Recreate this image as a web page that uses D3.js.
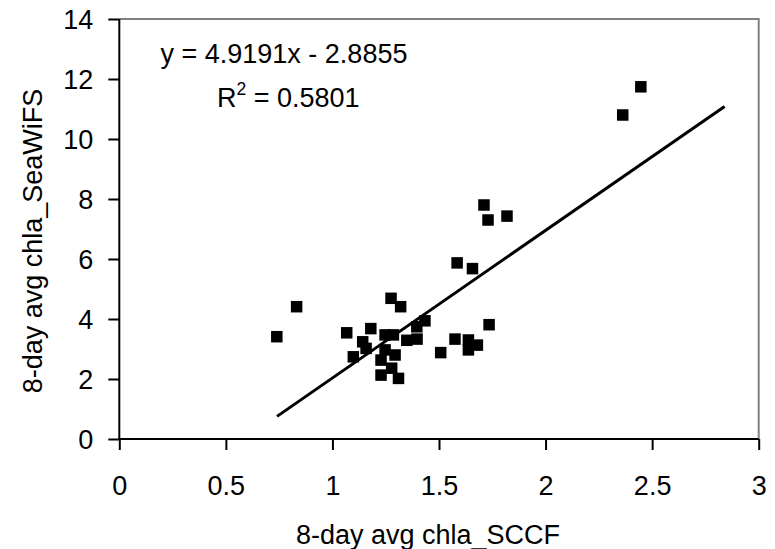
<!DOCTYPE html>
<html>
<head>
<meta charset="utf-8">
<script src="https://cdn.jsdelivr.net/npm/d3@7"></script>
<style>
  body { margin: 0; background: #fff; }
  svg text { font-family: "Liberation Sans", Arial, sans-serif; fill: #000; }
</style>
</head>
<body>
<svg id="chart" width="775" height="549"></svg>
<script>
// values
const sccf = [0.739, 0.832, 1.067, 1.180, 1.275, 1.320, 1.142, 1.158, 1.098, 1.247, 1.286, 1.247,
  1.294, 1.228, 1.278, 1.228, 1.310, 1.349, 1.397, 1.396, 1.434, 1.508, 1.575, 1.638,
  1.638, 1.680, 1.735, 1.585, 1.657, 1.711, 1.730, 1.819, 2.362, 2.447];
const seawifs = [3.41, 4.41, 3.54, 3.68, 4.69, 4.41, 3.24, 3.02, 2.74, 3.47, 3.47, 2.97,
  2.80, 2.63, 2.36, 2.13, 2.02, 3.29, 3.33, 3.74, 3.94, 2.88, 3.33, 3.30,
  2.97, 3.13, 3.81, 5.87, 5.68, 7.80, 7.30, 7.43, 10.80, 11.74];
const xTicks = [0, 0.5, 1, 1.5, 2, 2.5, 3];
const yTicks = [0, 2, 4, 6, 8, 10, 12, 14];
const slope = 4.9191, intercept = -2.8855, rSquared = '0.5801';
const trendRange = [0.74, 2.84];

const svg = d3.select('#chart');
const margin = { left: 119.3, right: 16.3, top: 19, bottom: 110 };
const width = 775, height = 549;
const fontSize = 27;

const x = d3.scaleLinear().domain([0, 3]).range([margin.left, width - margin.right]);
const y = d3.scaleLinear().domain([0, 14]).range([height - margin.bottom, margin.top]);

// grey frame on top and right
svg.append('path')
  .attr('d', `M${x(0)},${y(14)} H${x(3)} V${y(0)}`)
  .attr('fill', 'none')
  .attr('stroke', '#808080')
  .attr('stroke-width', 2);

const xAxis = svg.append('g')
  .attr('transform', `translate(0,${y(0)})`)
  .call(d3.axisBottom(x).tickValues(xTicks).tickSize(11).tickPadding(26).tickFormat(d3.format('')));
const yAxis = svg.append('g')
  .attr('transform', `translate(${x(0)},0)`)
  .call(d3.axisLeft(y).tickValues(yTicks).tickSize(11).tickPadding(15));

[xAxis, yAxis].forEach(g => {
  g.select('.domain').attr('stroke', '#000').attr('stroke-width', 2);
  g.selectAll('.tick line').attr('stroke', '#000').attr('stroke-width', 2);
  g.selectAll('.tick text').attr('font-size', fontSize).attr('fill', '#000');
});
yAxis.select('.domain').attr('d', `M0,${y(0)}V${y(14)}`);
xAxis.select('.domain').attr('d', `M${x(0)},0H${x(3)}`);
yAxis.selectAll('.tick text').attr('dy', '0.35em');

// points
const data = sccf.map((v, i) => ({ x: v, y: seawifs[i] }));
const size = 11.5;
svg.append('g').selectAll('rect')
  .data(data)
  .join('rect')
  .attr('x', d => x(d.x) - size / 2)
  .attr('y', d => y(d.y) - size / 2)
  .attr('width', size)
  .attr('height', size)
  .attr('fill', '#000');

// linear trend line
const line = d3.line().x(d => x(d)).y(d => y(slope * d + intercept));
svg.append('path')
  .datum(trendRange)
  .attr('d', line)
  .attr('fill', 'none')
  .attr('stroke', '#000')
  .attr('stroke-width', 3);

// equation
svg.append('text')
  .attr('x', 160.5).attr('y', 62.5)
  .attr('font-size', fontSize)
  .text(`y = ${slope}x - ${Math.abs(intercept)}`);
const r2 = svg.append('text')
  .attr('x', 217).attr('y', 106.5)
  .attr('font-size', fontSize);
r2.append('tspan').text('R');
r2.append('tspan').attr('font-size', fontSize * 0.65).attr('dy', -12).text('2');
r2.append('tspan').attr('dy', 12).text(` = ${rSquared}`);

// axis titles
svg.append('text')
  .attr('x', 428).attr('y', 544)
  .attr('text-anchor', 'middle')
  .attr('font-size', fontSize)
  .text('8-day avg chla_SCCF');
svg.append('text')
  .attr('transform', `translate(41.5,241) rotate(-90)`)
  .attr('text-anchor', 'middle')
  .attr('font-size', fontSize)
  .text('8-day avg chla_SeaWiFS');
</script>
</body>
</html>
